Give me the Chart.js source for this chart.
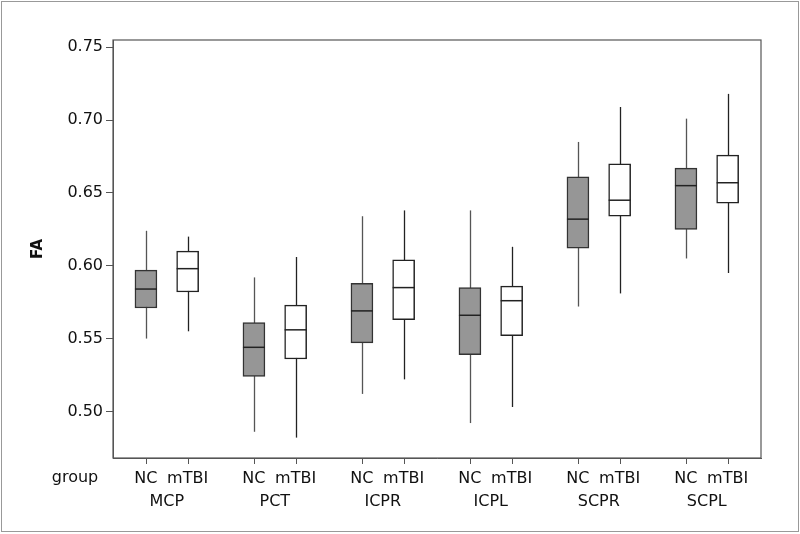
<!DOCTYPE html>
<html>
<head>
<meta charset="utf-8">
<script src="https://cdn.jsdelivr.net/npm/chart.js@4.4.1/dist/chart.umd.min.js"></script>
<style>
  body { margin: 0; background: #fff; }
  #wrap { width: 800px; height: 534px; position: relative; }
</style>
</head>
<body>
<div id="wrap"><canvas id="myChart"></canvas></div>
<script>
const regions = ['MCP', 'PCT', 'ICPR', 'ICPL', 'SCPR', 'SCPL'];
const groups = ['NC', 'mTBI'];
const yTicks = [0.50, 0.55, 0.60, 0.65, 0.70, 0.75];

// NC: whisker low, Q1, median, Q3, whisker high
const ncMin = [0.550, 0.486, 0.512, 0.492, 0.572, 0.605];
const ncQ1  = [0.571, 0.524, 0.547, 0.539, 0.612, 0.625];
const ncMed = [0.584, 0.544, 0.569, 0.566, 0.632, 0.655];
const ncQ3  = [0.597, 0.561, 0.588, 0.585, 0.661, 0.667];
const ncMax = [0.624, 0.592, 0.634, 0.638, 0.685, 0.701];

// mTBI
const tbiMin = [0.555, 0.482, 0.522, 0.503, 0.581, 0.595];
const tbiQ1  = [0.582, 0.536, 0.563, 0.552, 0.634, 0.643];
const tbiMed = [0.598, 0.556, 0.585, 0.576, 0.645, 0.657];
const tbiQ3  = [0.610, 0.573, 0.604, 0.586, 0.670, 0.676];
const tbiMax = [0.620, 0.606, 0.638, 0.613, 0.709, 0.718];

const FONT = '"DejaVu Sans", Verdana, sans-serif';
const GAP = 2.59; // distance between region groups, in units of NC->mTBI spacing
const xPos = (g, m) => g * GAP + m;
const groupTicks = [];
regions.forEach((r, g) => groups.forEach((_, m) => groupTicks.push(xPos(g, m))));
const regionTicks = regions.map((r, g) => xPos(g, 0.5));

const boxSet = (label, q1, q3, stats, fill, edge, whisker) => ({
  label,
  data: regions.map((r, i) => ({ x: xPos(i, groups.indexOf(label)), y: [q1[i], q3[i]] })),
  backgroundColor: fill,
  borderColor: edge,
  borderWidth: 1.5,
  borderSkipped: false,
  barThickness: 22,
  grouped: false,
  stats,
  whisker
});

const whiskerPlugin = {
  id: 'whiskers',
  beforeDatasetsDraw(chart) {
    const { ctx, scales: { x, y } } = chart;
    chart.data.datasets.forEach(ds => {
      ctx.save();
      ctx.strokeStyle = ds.whisker;
      ctx.lineWidth = 1.3;
      ds.data.forEach((d, i) => {
        const px = Math.round(x.getPixelForValue(d.x)) + 0.5;
        ctx.beginPath();
        ctx.moveTo(px, y.getPixelForValue(ds.stats.min[i]));
        ctx.lineTo(px, y.getPixelForValue(ds.stats.max[i]));
        ctx.stroke();
      });
      ctx.restore();
    });
  },
  afterDatasetsDraw(chart) {
    const { ctx, scales: { x, y } } = chart;
    chart.data.datasets.forEach(ds => {
      ctx.save();
      ctx.strokeStyle = '#222';
      ctx.lineWidth = 1.5;
      ds.data.forEach((d, i) => {
        const px = x.getPixelForValue(d.x);
        const py = y.getPixelForValue(ds.stats.med[i]);
        ctx.beginPath();
        ctx.moveTo(px - 11, py);
        ctx.lineTo(px + 11, py);
        ctx.stroke();
      });
      ctx.restore();
    });
  },
  afterDraw(chart) {
    const { ctx, chartArea: a, scales: { x } } = chart;
    ctx.save();
    ctx.strokeStyle = '#555';
    ctx.lineWidth = 1.2;
    ctx.strokeRect(a.left, a.top, a.right - a.left, a.bottom - a.top);
    // category tick marks below the x axis
    ctx.lineWidth = 1;
    groupTicks.forEach(v => {
      const px = Math.round(x.getPixelForValue(v)) + 0.5;
      ctx.beginPath();
      ctx.moveTo(px, a.bottom);
      ctx.lineTo(px, a.bottom + 6);
      ctx.stroke();
    });
    ctx.strokeStyle = '#999';
    ctx.strokeRect(1.5, 1.5, chart.width - 3, chart.height - 4);
    ctx.fillStyle = '#111';
    ctx.font = '16px ' + FONT;
    ctx.textAlign = 'center';
    ctx.textBaseline = 'middle';
    ctx.fillText('group', 75, 478);
    ctx.restore();
  }
};

new Chart('myChart', {
  type: 'bar',
  data: {
    datasets: [
      boxSet('NC', ncQ1, ncQ3, { min: ncMin, med: ncMed, max: ncMax }, '#969696', '#333', '#555'),
      boxSet('mTBI', tbiQ1, tbiQ3, { min: tbiMin, med: tbiMed, max: tbiMax }, '#ffffff', '#222', '#222')
    ]
  },
  options: {
    responsive: true,
    maintainAspectRatio: false,
    animation: false,
    layout: { padding: { left: 0, top: 40, right: 39, bottom: 18 } },
    plugins: { legend: { display: false }, tooltip: { enabled: false } },
    scales: {
      x: {
        type: 'linear',
        min: -0.79,
        max: xPos(5, 1) + 0.8,
        offset: false,
        afterBuildTicks: s => { s.ticks = groupTicks.map(v => ({ value: v })); },
        afterFit: s => { s.height = 32; },
        grid: { display: false, offset: false, tickLength: 6 },
        border: { display: true, color: '#555' },
        ticks: {
          autoSkip: false, maxRotation: 0, padding: 5,
          color: '#111', font: { family: FONT, size: 16 },
          callback: (v, i) => groups[i % 2]
        }
      },
      x2: {
        type: 'linear',
        position: 'bottom',
        min: -0.79,
        max: xPos(5, 1) + 0.8,
        offset: false,
        afterBuildTicks: s => { s.ticks = regionTicks.map(v => ({ value: v })); },
        afterFit: s => { s.height = 26; },
        grid: { display: false, drawTicks: false, offset: false },
        border: { display: false },
        ticks: {
          autoSkip: false, maxRotation: 0, padding: 2,
          color: '#111', font: { family: FONT, size: 16 },
          callback: (v, i) => regions[i]
        }
      },
      y: {
        min: 0.468,
        max: 0.755,
        afterBuildTicks: s => { s.ticks = yTicks.map(v => ({ value: v })); },
        afterFit: s => { s.width = 113; },
        grid: { display: true, drawOnChartArea: false, tickLength: 7, color: '#555' },
        border: { display: true, color: '#555' },
        ticks: {
          padding: 3, color: '#111', font: { family: FONT, size: 16 },
          callback: v => v.toFixed(2)
        },
        title: {
          display: true, text: 'FA', color: '#111',
          font: { family: FONT, size: 15, weight: 'bold' },
          padding: { top: 29, bottom: 0 }
        }
      }
    }
  },
  plugins: [whiskerPlugin]
});
</script>
</body>
</html>
